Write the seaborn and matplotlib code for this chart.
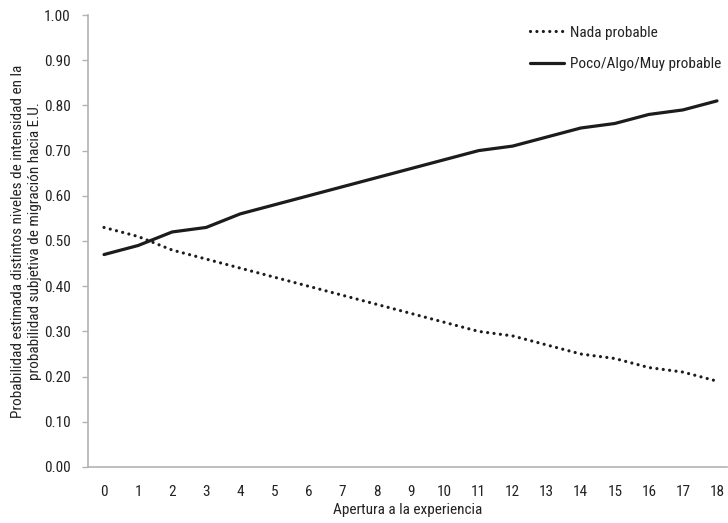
import numpy as np
import matplotlib
matplotlib.use("Agg")
import matplotlib.pyplot as plt
import seaborn as sns
import pandas as pd

sns.set_theme(style="white")
plt.rcParams['font.family'] = ['Roboto Condensed', 'Liberation Sans', 'DejaVu Sans']

# datos
apertura = list(range(19))
nada = [0.53, 0.51, 0.48, 0.46, 0.44, 0.42, 0.40, 0.38, 0.36, 0.34,
        0.32, 0.30, 0.29, 0.27, 0.25, 0.24, 0.22, 0.21, 0.19]
poco = [0.47, 0.49, 0.52, 0.53, 0.56, 0.58, 0.60, 0.62, 0.64, 0.66,
        0.68, 0.70, 0.71, 0.73, 0.75, 0.76, 0.78, 0.79, 0.81]
series = ['Nada probable', 'Poco/Algo/Muy probable']
yticks = [0.0, 0.1, 0.2, 0.3, 0.4, 0.5, 0.6, 0.7, 0.8, 0.9, 1.0]

df = pd.DataFrame({
    'x': apertura * 2,
    'y': nada + poco,
    'serie': [series[0]] * len(nada) + [series[1]] * len(poco),
})

fig = plt.figure(figsize=(7.28, 5.23), dpi=100)
ax = fig.add_axes([0.1209, 0.1071, 0.878, 0.8642])

col = '#1c1c1c'
fs = 11
sns.lineplot(data=df[df.serie == series[0]], x='x', y='y', ax=ax, color=col,
             linewidth=2.3, label=series[0])
sns.lineplot(data=df[df.serie == series[1]], x='x', y='y', ax=ax, color=col,
             linewidth=2.3, label=series[1])
ax.lines[0].set_linestyle((0, (0.01, 2.0)))
ax.lines[0].set_dash_capstyle('round')

ax.set_xlim(-0.47, 18.3)
ax.set_ylim(0, 1.0)
ax.set_xticks(apertura)
ax.set_xticklabels([str(v) for v in apertura])
ax.set_yticks(yticks)
ax.set_yticklabels([f'{v:.2f}' for v in yticks])

for s in ['top', 'right']:
    ax.spines[s].set_visible(False)
for s in ['left', 'bottom']:
    ax.spines[s].set_color('#b3b3b3')
    ax.spines[s].set_linewidth(1.2)
ax.tick_params(axis='y', left=True, length=4.5, width=1, color='#b3b3b3',
               labelsize=fs, labelcolor='#222222', pad=8)
ax.tick_params(axis='x', bottom=False, labelsize=fs, labelcolor='#222222', pad=7)

ax.set_xlabel('Apertura a la experiencia', fontsize=fs, color='#222222', labelpad=3)
ax.set_ylabel('Probabilidad estimada distintos niveles de intensidad en la\n'
              'probabilidad subjetiva de migración hacia E.U.',
              fontsize=fs, color='#222222', linespacing=1.3)
ax.yaxis.set_label_coords(-0.072, 0.5)

leg = ax.legend(loc='upper left', bbox_to_anchor=(0.728, 0.951),
                bbox_transform=fig.transFigure, frameon=False, borderpad=0,
                borderaxespad=0, fontsize=fs, handlelength=2.2,
                handletextpad=0.45, labelspacing=1.15)
for t in leg.get_texts():
    t.set_color('#222222')

fig.savefig('out.png', dpi=100)
